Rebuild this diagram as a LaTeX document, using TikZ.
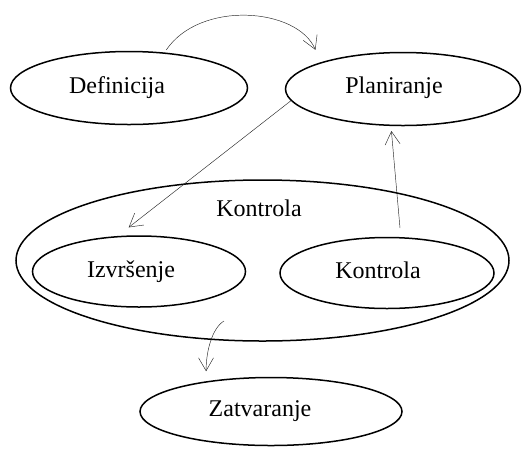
\documentclass[tikz,border=0pt]{standalone}
\usepackage{fontspec}
\setmainfont{Liberation Serif}
\usetikzlibrary{shapes.geometric,arrows.meta}
\begin{document}
\begin{tikzpicture}[x=1pt,y=-1pt,
  faza/.style={draw, ellipse, line width=1.5pt, inner sep=0pt},
  natpis/.style={font=\fontsize{24}{28}\selectfont, inner sep=0pt},
  veza/.style={-{Straight Barb[length=13pt,width=15pt]}, line width=0.45pt, black!85}]
\useasboundingbox (0,0) rectangle (524,448);
% faze
\node[faza, minimum width=237pt, minimum height=73pt] (def) at (129,88) {};
\node[faza, minimum width=235pt, minimum height=73pt] (plan) at (403,89) {};
\node[faza, minimum width=493pt, minimum height=161pt] (kont) at (262.5,260.5) {};
\node[faza, minimum width=213pt, minimum height=71pt] (izv) at (139,271.5) {};
\node[faza, minimum width=214pt, minimum height=71pt] (kin) at (387,273) {};
\node[faza, minimum width=262pt, minimum height=68pt] (zat) at (271,411.5) {};
% natpisi
\node[natpis] (defT) at ([xshift=-12pt]def.center) {Definicija};
\node[natpis] (planT) at ([xshift=-9pt,yshift=1pt]plan.center) {Planiranje};
\node[natpis] (kontT) at (259,208) {Kontrola};
\node[natpis] (izvT) at ([xshift=-8pt]izv.center) {Izvršenje};
\node[natpis] (kinT) at ([xshift=-9pt,yshift=3pt]kin.center) {Kontrola};
\node[natpis] (zatT) at ([xshift=-11pt]zat.center) {Zatvaranje};
% veze
\draw[veza, shorten <=3pt, shorten >=13.5pt] (def.45) .. controls (200,0) and (297.5,7.5) .. (plan.162);
\draw[veza, shorten >=14pt] (plan.186) -- (izv.121.5);
\draw[veza, shorten <=9pt, shorten >=5pt] (kin.69) -- (plan.252);
\coordinate (izlaz) at (224,321);
\draw[veza, shorten >=10pt] (izlaz) .. controls (212,328) and (206,352) .. (zat.155.6);
\end{tikzpicture}
\end{document}
